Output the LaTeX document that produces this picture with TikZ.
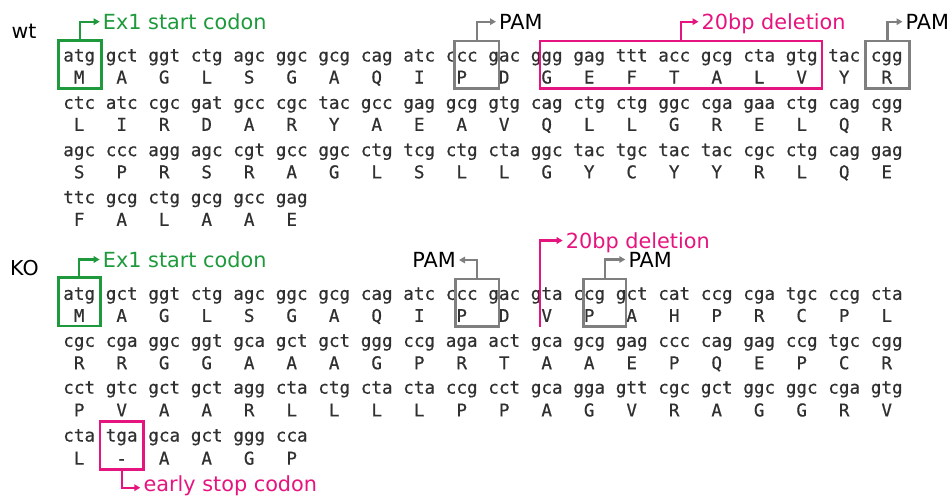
\documentclass[tikz,border=0pt]{standalone}
\usepackage{fontspec}
\usetikzlibrary{arrows.meta}
\newfontfamily\seqfont[FakeBold=0.6]{DejaVu Sans Mono}
\newfontfamily\lblfont{DejaVu Sans}
\definecolor{seqgray}{HTML}{303030}
\definecolor{startgreen}{HTML}{1E9A3C}
\definecolor{delpink}{HTML}{E6147E}
\definecolor{pamgray}{HTML}{7F7F7F}

\tikzset{
  codon/.style={anchor=base, inner sep=0pt, text=seqgray,
    font=\seqfont\fontsize{17.6}{20}\selectfont},
  frame/.style={draw, line width=2.6pt, inner sep=0pt},
  lbl/.style={inner xsep=3pt, inner ysep=0pt, text height=15pt, text depth=0pt,
    font=\lblfont\fontsize{20.8}{24}\selectfont},
  lblright/.style={lbl, anchor=base west},
  lblleft/.style={lbl, anchor=base east},
  conn/.style={line width=2.2pt, -{Triangle[length=6pt,width=6.5pt]}},
  section/.style={anchor=base west, inner sep=0pt,
    font=\lblfont\fontsize{20.5}{24}\selectfont}
}

% one line of codons or residues, centred on a fixed column grid
\newcommand\putrow[3]{%
  \foreach \t [count=\k from 0] in {#3} {\node[codon] (#1-\k) at ({79.2+42.5*\k},#2) {\t};}}

\begin{document}
\begin{tikzpicture}[x=1pt, y=-1pt]
\useasboundingbox (0,0) rectangle (950,499);

% ---------------- wild type ----------------
\node[section] (wt) at (11.5,38) {wt};
\putrow{wa1}{61.5}{atg,gct,ggt,ctg,agc,ggc,gcg,cag,atc,ccc,gac,ggg,gag,ttt,acc,gcg,cta,gtg,tac,cgg}
\putrow{wp1}{83.5}{M,A,G,L,S,G,A,Q,I,P,D,G,E,F,T,A,L,V,Y,R}
\putrow{wa2}{108.8}{ctc,atc,cgc,gat,gcc,cgc,tac,gcc,gag,gcg,gtg,cag,ctg,ctg,ggc,cga,gaa,ctg,cag,cgg}
\putrow{wp2}{130.8}{L,I,R,D,A,R,Y,A,E,A,V,Q,L,L,G,R,E,L,Q,R}
\putrow{wa3}{156.1}{agc,ccc,agg,agc,cgt,gcc,ggc,ctg,tcg,ctg,cta,ggc,tac,tgc,tac,tac,cgc,ctg,cag,gag}
\putrow{wp3}{178.3}{S,P,R,S,R,A,G,L,S,L,L,G,Y,C,Y,Y,R,L,Q,E}
\putrow{wa4}{203.4}{ttc,gcg,ctg,gcg,gcc,gag}
\putrow{wp4}{225.8}{F,A,L,A,A,E}

\node[frame, draw=startgreen, minimum width=43.4pt, minimum height=48.5pt] (wstart) at (80,64.5) {};
\node[frame, draw=pamgray, minimum width=44.5pt, minimum height=47.5pt] (wpam1) at (476.7,64.7) {};
\node[frame, draw=delpink, minimum width=282pt, minimum height=47.5pt] (wdel) at (681,64.7) {};
\node[frame, draw=pamgray, minimum width=43.6pt, minimum height=47.5pt] (wpam2) at (887.5,64.7) {};

\node[lblright, text=startgreen] (wstartlbl) at (99.7,29.2) {Ex1 start codon};
\node[lblright] (wpam1lbl) at (496,29.2) {PAM};
\node[lblright, text=delpink] (wdellbl) at (698.5,29.2) {20bp deletion};
\node[lblright] (wpam2lbl) at (902.5,29.2) {PAM};

\draw[conn, startgreen] (wstart.north) |- (wstartlbl.west);
\draw[conn, pamgray] (wpam1.north) |- (wpam1lbl.west);
\draw[conn, delpink] (wdel.north) |- (wdellbl.west);
\draw[conn, pamgray] (wpam2.north) |- (wpam2lbl.west);

% ---------------- knock-out ----------------
\node[section] (ko) at (10,275) {KO};
\putrow{ka1}{299.8}{atg,gct,ggt,ctg,agc,ggc,gcg,cag,atc,ccc,gac,gta,ccg,gct,cat,ccg,cga,tgc,ccg,cta}
\putrow{kp1}{321.9}{M,A,G,L,S,G,A,Q,I,P,D,V,P,A,H,P,R,C,P,L}
\putrow{ka2}{346.8}{cgc,cga,ggc,ggt,gca,gct,gct,ggg,ccg,aga,act,gca,gcg,gag,ccc,cag,gag,ccg,tgc,cgg}
\putrow{kp2}{369.2}{R,R,G,G,A,A,A,G,P,R,T,A,A,E,P,Q,E,P,C,R}
\putrow{ka3}{393.6}{cct,gtc,gct,gct,agg,cta,ctg,cta,cta,ccg,cct,gca,gga,gtt,cgc,gct,ggc,ggc,cga,gtg}
\putrow{kp3}{416.4}{P,V,A,A,R,L,L,L,L,P,P,A,G,V,R,A,G,G,R,V}
\putrow{ka4}{441.5}{cta,tga,gca,gct,ggg,cca}
\putrow{kp4}{464.6}{L,-,A,A,G,P}

\node[frame, draw=startgreen, minimum width=42pt, minimum height=48.3pt] (kstart) at (79.2,301.8) {};
\node[frame, draw=pamgray, minimum width=43.3pt, minimum height=47.7pt] (kpam1) at (477.3,302.8) {};
\node[frame, draw=pamgray, minimum width=42.7pt, minimum height=47.7pt] (kpam2) at (604.7,302.8) {};
\node[frame, draw=delpink, minimum width=43.3pt, minimum height=47.6pt] (kstop) at (121.7,445.5) {};
\coordinate (kcut) at (540,326.5);

\node[lblright, text=startgreen] (kstartlbl) at (99.7,267) {Ex1 start codon};
\node[lblleft] (kpam1lbl) at (459,267.5) {PAM};
\node[lblright] (kpam2lbl) at (625.3,267) {PAM};
\node[lblright, text=delpink] (kdellbl) at (562.7,248) {20bp deletion};
\node[lblright, text=delpink, text height=8pt] (kstoplbl) at (140.3,491.7) {early stop codon};

\draw[conn, startgreen] (kstart.north) |- (kstartlbl.west);
\draw[conn, pamgray] (kpam1.north) |- (kpam1lbl.east);
\draw[conn, pamgray] (kpam2.north) |- (kpam2lbl.west);
\draw[conn, delpink] (kcut) |- (kdellbl.west);
\draw[conn, delpink] (kstop.south) |- (kstoplbl.west);
\end{tikzpicture}
\end{document}
